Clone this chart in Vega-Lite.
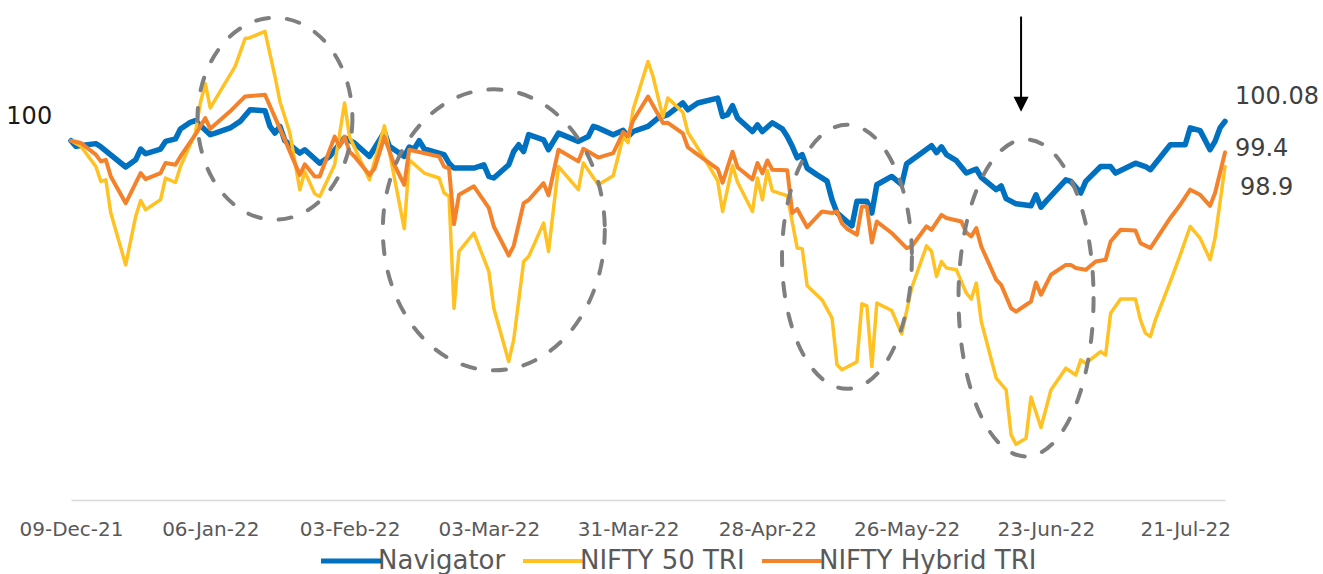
{
"$schema":"https://vega.github.io/schema/vega-lite/v6.json",
"width":1154,"height":494,
"autosize":{"type":"none"},
"padding":{"left":71,"top":6,"right":98,"bottom":74},
"background":"white",
"config":{"view":{"stroke":null},"font":"DejaVu Sans"},
"datasets":{
"nav":[
{"date":"2021-12-09","value":100},{"date":"2021-12-10","value":99.75},{"date":"2021-12-14","value":99.87},{"date":"2021-12-15","value":99.73},{"date":"2021-12-20","value":98.83},{"date":"2021-12-22","value":99.15},{"date":"2021-12-23","value":99.63},{"date":"2021-12-24","value":99.42},{"date":"2021-12-27","value":99.63},{"date":"2021-12-28","value":99.97},{"date":"2021-12-30","value":100.08},{"date":"2021-12-31","value":100.52},
{"date":"2022-01-02","value":100.82},{"date":"2022-01-03","value":100.89},{"date":"2022-01-06","value":100.27},{"date":"2022-01-07","value":100.34},{"date":"2022-01-10","value":100.57},{"date":"2022-01-12","value":100.86},{"date":"2022-01-14","value":101.38},{"date":"2022-01-17","value":101.34},{"date":"2022-01-18","value":100.64},{"date":"2022-01-19","value":100.34},{"date":"2022-01-20","value":100.64},{"date":"2022-01-21","value":100.0},{"date":"2022-01-24","value":99.45},{"date":"2022-01-25","value":99.6},{"date":"2022-01-28","value":99.0},{"date":"2022-01-30","value":99.3},
{"date":"2022-02-02","value":100.13},{"date":"2022-02-04","value":99.9},{"date":"2022-02-07","value":99.3},{"date":"2022-02-10","value":100.38},{"date":"2022-02-11","value":99.75},{"date":"2022-02-14","value":99.3},{"date":"2022-02-15","value":99.72},{"date":"2022-02-16","value":99.63},{"date":"2022-02-17","value":100.0},{"date":"2022-02-18","value":99.64},{"date":"2022-02-22","value":99.38},{"date":"2022-02-23","value":99.0},{"date":"2022-02-24","value":98.78},{"date":"2022-02-28","value":98.78},
{"date":"2022-03-02","value":98.93},{"date":"2022-03-03","value":98.41},{"date":"2022-03-04","value":98.34},{"date":"2022-03-07","value":98.93},{"date":"2022-03-08","value":99.52},{"date":"2022-03-09","value":99.82},{"date":"2022-03-10","value":99.52},{"date":"2022-03-11","value":100.27},{"date":"2022-03-14","value":100.04},{"date":"2022-03-15","value":99.6},{"date":"2022-03-17","value":100.34},{"date":"2022-03-21","value":99.97},{"date":"2022-03-23","value":100.19},{"date":"2022-03-24","value":100.64},{"date":"2022-03-25","value":100.57},{"date":"2022-03-28","value":100.27},{"date":"2022-03-30","value":100.46},{"date":"2022-03-31","value":100.19},
{"date":"2022-04-01","value":100.41},{"date":"2022-04-04","value":100.64},{"date":"2022-04-06","value":101.01},{"date":"2022-04-08","value":101.16},{"date":"2022-04-11","value":101.68},{"date":"2022-04-12","value":101.38},{"date":"2022-04-14","value":101.68},{"date":"2022-04-18","value":101.9},{"date":"2022-04-19","value":101.08},{"date":"2022-04-20","value":101.16},{"date":"2022-04-21","value":101.56},{"date":"2022-04-22","value":101.01},{"date":"2022-04-25","value":100.41},{"date":"2022-04-26","value":100.71},{"date":"2022-04-27","value":100.41},{"date":"2022-04-29","value":100.8},
{"date":"2022-05-01","value":100.53},{"date":"2022-05-02","value":100.19},{"date":"2022-05-03","value":99.75},{"date":"2022-05-04","value":99.24},{"date":"2022-05-05","value":99.38},{"date":"2022-05-06","value":98.78},{"date":"2022-05-08","value":98.48},{"date":"2022-05-10","value":98.2},{"date":"2022-05-11","value":97.37},{"date":"2022-05-12","value":96.79},{"date":"2022-05-14","value":96.4},{"date":"2022-05-15","value":96.21},{"date":"2022-05-16","value":97.3},{"date":"2022-05-18","value":97.3},{"date":"2022-05-19","value":96.78},{"date":"2022-05-20","value":98.04},{"date":"2022-05-23","value":98.41},{"date":"2022-05-25","value":98.04},{"date":"2022-05-26","value":98.98},{"date":"2022-05-29","value":99.45},{"date":"2022-05-31","value":99.78},
{"date":"2022-06-01","value":99.47},{"date":"2022-06-02","value":99.73},{"date":"2022-06-03","value":99.38},{"date":"2022-06-05","value":99.11},{"date":"2022-06-07","value":98.56},{"date":"2022-06-09","value":98.74},{"date":"2022-06-10","value":98.37},{"date":"2022-06-13","value":97.82},{"date":"2022-06-14","value":97.99},{"date":"2022-06-15","value":97.42},{"date":"2022-06-17","value":97.19},{"date":"2022-06-20","value":97.1},{"date":"2022-06-21","value":97.59},{"date":"2022-06-22","value":97.04},{"date":"2022-06-23","value":97.3},{"date":"2022-06-27","value":98.26},{"date":"2022-06-28","value":98.19},{"date":"2022-06-30","value":97.67},
{"date":"2022-07-01","value":98.19},{"date":"2022-07-04","value":98.85},{"date":"2022-07-06","value":98.85},{"date":"2022-07-07","value":98.56},{"date":"2022-07-11","value":99.0},{"date":"2022-07-13","value":98.85},{"date":"2022-07-14","value":98.71},{"date":"2022-07-18","value":99.82},{"date":"2022-07-21","value":99.82},{"date":"2022-07-22","value":100.57},{"date":"2022-07-24","value":100.45},{"date":"2022-07-26","value":99.6},{"date":"2022-07-27","value":99.97},{"date":"2022-07-28","value":100.57},{"date":"2022-07-29","value":100.86}
],
"n50":[
{"date":"2021-12-09","value":100},{"date":"2021-12-11","value":99.75},{"date":"2021-12-14","value":98.85},{"date":"2021-12-15","value":98.19},{"date":"2021-12-16","value":98.26},{"date":"2021-12-17","value":96.78},{"date":"2021-12-20","value":94.47},{"date":"2021-12-22","value":96.63},{"date":"2021-12-23","value":97.34},{"date":"2021-12-24","value":96.93},{"date":"2021-12-27","value":97.37},{"date":"2021-12-28","value":98.34},{"date":"2021-12-30","value":98.14},{"date":"2021-12-31","value":98.85},
{"date":"2022-01-03","value":100.34},{"date":"2022-01-04","value":101.68},{"date":"2022-01-05","value":102.54},{"date":"2022-01-06","value":101.46},{"date":"2022-01-11","value":103.31},{"date":"2022-01-13","value":104.55},{"date":"2022-01-14","value":104.59},{"date":"2022-01-17","value":104.87},{"date":"2022-01-19","value":102.87},{"date":"2022-01-20","value":101.75},{"date":"2022-01-22","value":100.34},{"date":"2022-01-24","value":97.82},{"date":"2022-01-25","value":98.62},{"date":"2022-01-27","value":97.64},{"date":"2022-01-28","value":97.52},{"date":"2022-01-31","value":98.93},
{"date":"2022-02-02","value":101.68},{"date":"2022-02-03","value":100.18},{"date":"2022-02-07","value":98.26},{"date":"2022-02-10","value":100.66},{"date":"2022-02-14","value":96.08},{"date":"2022-02-15","value":99.15},{"date":"2022-02-18","value":98.56},{"date":"2022-02-21","value":98.34},{"date":"2022-02-22","value":97.67},{"date":"2022-02-23","value":97.52},{"date":"2022-02-24","value":92.54},{"date":"2022-02-25","value":95.07},{"date":"2022-02-28","value":95.89},
{"date":"2022-03-03","value":94.18},{"date":"2022-03-04","value":92.54},{"date":"2022-03-07","value":90.17},{"date":"2022-03-08","value":91.13},{"date":"2022-03-10","value":94.62},{"date":"2022-03-11","value":94.84},{"date":"2022-03-14","value":96.33},{"date":"2022-03-15","value":95.07},{"date":"2022-03-17","value":98.85},{"date":"2022-03-21","value":97.82},{"date":"2022-03-22","value":99.01},{"date":"2022-03-25","value":98.04},{"date":"2022-03-28","value":98.44},{"date":"2022-03-29","value":99.3},{"date":"2022-03-30","value":100.19},{"date":"2022-03-31","value":99.92},
{"date":"2022-04-01","value":101.38},{"date":"2022-04-04","value":103.53},{"date":"2022-04-05","value":102.87},{"date":"2022-04-07","value":101.05},{"date":"2022-04-08","value":101.9},{"date":"2022-04-11","value":101.27},{"date":"2022-04-12","value":100.38},{"date":"2022-04-15","value":99.33},{"date":"2022-04-18","value":98.22},{"date":"2022-04-19","value":96.85},{"date":"2022-04-21","value":98.89},{"date":"2022-04-22","value":98.15},{"date":"2022-04-25","value":96.85},{"date":"2022-04-26","value":98.34},{"date":"2022-04-27","value":97.37},{"date":"2022-04-28","value":98.67},{"date":"2022-04-29","value":97.77},
{"date":"2022-05-02","value":97.55},{"date":"2022-05-04","value":95.22},{"date":"2022-05-05","value":95.19},{"date":"2022-05-06","value":93.54},{"date":"2022-05-09","value":92.91},{"date":"2022-05-11","value":92.1},{"date":"2022-05-12","value":90.02},{"date":"2022-05-13","value":89.8},{"date":"2022-05-16","value":90.15},{"date":"2022-05-17","value":92.74},{"date":"2022-05-18","value":92.65},{"date":"2022-05-19","value":89.94},{"date":"2022-05-20","value":92.77},{"date":"2022-05-23","value":92.44},{"date":"2022-05-25","value":91.4},{"date":"2022-05-27","value":93.44},{"date":"2022-05-30","value":95.32},{"date":"2022-05-31","value":95.07},
{"date":"2022-06-01","value":93.96},{"date":"2022-06-02","value":94.62},{"date":"2022-06-03","value":94.33},{"date":"2022-06-05","value":94.25},{"date":"2022-06-07","value":93.21},{"date":"2022-06-08","value":92.95},{"date":"2022-06-09","value":93.66},{"date":"2022-06-10","value":91.95},{"date":"2022-06-13","value":89.43},{"date":"2022-06-15","value":88.9},{"date":"2022-06-16","value":86.9},{"date":"2022-06-17","value":86.48},{"date":"2022-06-19","value":86.75},{"date":"2022-06-20","value":88.59},{"date":"2022-06-22","value":87.23},{"date":"2022-06-24","value":88.9},{"date":"2022-06-27","value":89.87},{"date":"2022-06-29","value":89.57},{"date":"2022-06-30","value":90.24},
{"date":"2022-07-01","value":90.09},{"date":"2022-07-04","value":90.61},{"date":"2022-07-05","value":90.46},{"date":"2022-07-06","value":92.32},{"date":"2022-07-08","value":92.95},{"date":"2022-07-11","value":92.95},{"date":"2022-07-12","value":92.02},{"date":"2022-07-13","value":91.43},{"date":"2022-07-14","value":91.28},{"date":"2022-07-15","value":92.02},{"date":"2022-07-18","value":93.73},{"date":"2022-07-20","value":94.92},{"date":"2022-07-22","value":96.18},{"date":"2022-07-24","value":95.66},{"date":"2022-07-26","value":94.7},{"date":"2022-07-27","value":95.66},{"date":"2022-07-29","value":98.85}
],
"hyb":[
{"date":"2021-12-09","value":100},{"date":"2021-12-11","value":99.9},{"date":"2021-12-14","value":99.38},{"date":"2021-12-15","value":99.08},{"date":"2021-12-16","value":99.15},{"date":"2021-12-17","value":98.41},{"date":"2021-12-20","value":97.22},{"date":"2021-12-23","value":98.56},{"date":"2021-12-24","value":98.29},{"date":"2021-12-27","value":98.56},{"date":"2021-12-28","value":99.01},{"date":"2021-12-30","value":98.93},{"date":"2021-12-31","value":99.3},
{"date":"2022-01-03","value":100.27},{"date":"2022-01-05","value":101.01},{"date":"2022-01-06","value":100.53},{"date":"2022-01-10","value":101.31},{"date":"2022-01-12","value":101.75},{"date":"2022-01-13","value":101.97},{"date":"2022-01-17","value":102.05},{"date":"2022-01-21","value":100.04},{"date":"2022-01-24","value":98.48},{"date":"2022-01-25","value":98.95},{"date":"2022-01-27","value":98.41},{"date":"2022-01-28","value":98.41},{"date":"2022-01-31","value":100.18},
{"date":"2022-02-01","value":99.75},{"date":"2022-02-02","value":100.18},{"date":"2022-02-03","value":99.51},{"date":"2022-02-04","value":99.3},{"date":"2022-02-07","value":98.48},{"date":"2022-02-08","value":98.75},{"date":"2022-02-10","value":100.16},{"date":"2022-02-12","value":98.93},{"date":"2022-02-14","value":98.04},{"date":"2022-02-15","value":99.6},{"date":"2022-02-21","value":99.3},{"date":"2022-02-22","value":98.85},{"date":"2022-02-23","value":98.77},{"date":"2022-02-24","value":96.28},{"date":"2022-02-25","value":97.59},{"date":"2022-02-28","value":97.97},
{"date":"2022-03-03","value":97.01},{"date":"2022-03-04","value":96.18},{"date":"2022-03-07","value":94.89},{"date":"2022-03-08","value":95.32},{"date":"2022-03-10","value":97.22},{"date":"2022-03-11","value":97.36},{"date":"2022-03-14","value":98.11},{"date":"2022-03-15","value":97.57},{"date":"2022-03-17","value":99.6},{"date":"2022-03-21","value":99.08},{"date":"2022-03-22","value":99.64},{"date":"2022-03-23","value":99.52},{"date":"2022-03-25","value":99.25},{"date":"2022-03-28","value":99.45},{"date":"2022-03-29","value":99.9},{"date":"2022-03-30","value":100.38},{"date":"2022-03-31","value":100.22},
{"date":"2022-04-01","value":100.89},{"date":"2022-04-04","value":101.97},{"date":"2022-04-07","value":100.79},{"date":"2022-04-08","value":100.8},{"date":"2022-04-11","value":100.33},{"date":"2022-04-12","value":99.71},{"date":"2022-04-14","value":99.38},{"date":"2022-04-18","value":98.75},{"date":"2022-04-19","value":98.13},{"date":"2022-04-21","value":99.51},{"date":"2022-04-22","value":98.82},{"date":"2022-04-25","value":98.28},{"date":"2022-04-26","value":99.01},{"date":"2022-04-27","value":98.55},{"date":"2022-04-28","value":99.12},{"date":"2022-04-29","value":98.71},
{"date":"2022-05-02","value":98.69},{"date":"2022-05-03","value":96.78},{"date":"2022-05-04","value":96.96},{"date":"2022-05-06","value":96.15},{"date":"2022-05-09","value":96.85},{"date":"2022-05-11","value":96.78},{"date":"2022-05-12","value":96.85},{"date":"2022-05-13","value":96.32},{"date":"2022-05-14","value":96.08},{"date":"2022-05-16","value":95.81},{"date":"2022-05-17","value":97.07},{"date":"2022-05-18","value":97.07},{"date":"2022-05-19","value":95.47},{"date":"2022-05-20","value":96.4},{"date":"2022-05-23","value":95.89},{"date":"2022-05-26","value":95.22},{"date":"2022-05-27","value":95.29},{"date":"2022-05-29","value":95.89},{"date":"2022-05-30","value":96.19},{"date":"2022-05-31","value":96.03},
{"date":"2022-06-02","value":96.7},{"date":"2022-06-03","value":96.56},{"date":"2022-06-06","value":96.4},{"date":"2022-06-07","value":95.91},{"date":"2022-06-08","value":95.74},{"date":"2022-06-09","value":96.11},{"date":"2022-06-10","value":95.29},{"date":"2022-06-13","value":93.81},{"date":"2022-06-14","value":93.58},{"date":"2022-06-16","value":92.54},{"date":"2022-06-17","value":92.39},{"date":"2022-06-20","value":92.84},{"date":"2022-06-21","value":93.69},{"date":"2022-06-22","value":93.14},{"date":"2022-06-24","value":94.03},{"date":"2022-06-27","value":94.47},{"date":"2022-06-28","value":94.47},{"date":"2022-06-29","value":94.33},
{"date":"2022-07-01","value":94.25},{"date":"2022-07-03","value":94.62},{"date":"2022-07-05","value":94.7},{"date":"2022-07-06","value":95.51},{"date":"2022-07-08","value":96.03},{"date":"2022-07-11","value":96.0},{"date":"2022-07-12","value":95.44},{"date":"2022-07-14","value":95.22},{"date":"2022-07-18","value":96.56},{"date":"2022-07-20","value":97.15},{"date":"2022-07-22","value":97.82},{"date":"2022-07-24","value":97.59},{"date":"2022-07-26","value":97.1},{"date":"2022-07-27","value":97.67},{"date":"2022-07-29","value":99.48}
],
"ellipses":[
{"id":1,"date":"2022-01-19","value":100.98},
{"id":2,"date":"2022-03-04","value":96.03},
{"id":3,"date":"2022-05-14","value":94.83},
{"id":4,"date":"2022-06-19","value":93.0}
],
"arrow":[{"date":"2022-06-18","value":105.53,"value2":101.83,"head":101.63}],
"labels":[
{"label":"100","date":"2021-11-26","value":100.76},
{"label":"100.08","date":"2022-07-31","value":101.65},
{"label":"99.4","date":"2022-07-31","value":99.33},
{"label":"98.9","date":"2022-08-01","value":97.59}
]
},
"encoding":{
"x":{"field":"date","type":"temporal",
 "scale":{"type":"utc","domain":[{"year":2021,"month":12,"date":9,"utc":true},{"year":2022,"month":7,"date":29,"utc":true}]},
 "axis":{"title":null,"format":"%d-%b-%y",
  "values":[{"year":2021,"month":12,"date":9,"utc":true},{"year":2022,"month":1,"date":6,"utc":true},{"year":2022,"month":2,"date":3,"utc":true},{"year":2022,"month":3,"date":3,"utc":true},{"year":2022,"month":3,"date":31,"utc":true},{"year":2022,"month":4,"date":28,"utc":true},{"year":2022,"month":5,"date":26,"utc":true},{"year":2022,"month":6,"date":23,"utc":true},{"year":2022,"month":7,"date":21,"utc":true}],
  "labelFont":"DejaVu Sans","labelFontSize":20,"labelColor":"#595959","ticks":false,"tickSize":0,"grid":false,
  "domainColor":"#D9D9D9","domainWidth":1.5,"labelPadding":19,"labelFlush":false,"labelOverlap":false}},
"y":{"field":"value","type":"quantitative","scale":{"domain":[84,106],"zero":false,"nice":false},"axis":null}
},
"layer":[
{"data":{"name":"nav"},"transform":[{"calculate":"'Navigator'","as":"series"}],
 "mark":{"type":"line","strokeWidth":5.5,"strokeJoin":"round","strokeCap":"round"},
 "encoding":{"color":{"field":"series","type":"nominal",
  "scale":{"domain":["Navigator","NIFTY 50 TRI","NIFTY Hybrid TRI"],"range":["#0070C0","#FFC222","#F4822B"]},
  "legend":{"title":null,"orient":"none","legendX":267,"legendY":542,"direction":"horizontal","symbolType":"stroke","symbolSize":3600,"symbolStrokeWidth":4,
   "labelFont":"DejaVu Sans","labelFontSize":26,"labelColor":"#595959","labelOffset":14,"labelLimit":400,"columnPadding":9,"padding":0,
   "encode":{"symbols":{"update":{"strokeWidth":{"signal":"datum.value === 'Navigator' ? 5 : 4"}}}}}}}},
{"data":{"name":"n50"},"transform":[{"calculate":"'NIFTY 50 TRI'","as":"series"}],
 "mark":{"type":"line","strokeWidth":3.5,"strokeJoin":"round","strokeCap":"round"},
 "encoding":{"color":{"field":"series","type":"nominal","scale":{"domain":["Navigator","NIFTY 50 TRI","NIFTY Hybrid TRI"],"range":["#0070C0","#FFC222","#F4822B"]}}}},
{"data":{"name":"hyb"},"transform":[{"calculate":"'NIFTY Hybrid TRI'","as":"series"}],
 "mark":{"type":"line","strokeWidth":4,"strokeJoin":"round","strokeCap":"round"},
 "encoding":{"color":{"field":"series","type":"nominal","scale":{"domain":["Navigator","NIFTY 50 TRI","NIFTY Hybrid TRI"],"range":["#0070C0","#FFC222","#F4822B"]}}}},
{"data":{"name":"ellipses"},"transform":[{"filter":"datum.id === 1"}],
 "mark":{"type":"point","shape":"M0.767,0C0.767,0.552 0.424,1 0,1C-0.424,1 -0.767,0.552 -0.767,0C-0.767,-0.552 -0.424,-1 0,-1C0.424,-1 0.767,-0.552 0.767,0Z","size":40804,"filled":false,"color":"#7F7F7F","strokeWidth":4,"strokeDash":[13,18],"strokeCap":"round","opacity":1}},
{"data":{"name":"ellipses"},"transform":[{"filter":"datum.id === 2"}],
 "mark":{"type":"point","shape":"M0.79,0C0.79,0.552 0.436,1 0,1C-0.436,1 -0.79,0.552 -0.79,0C-0.79,-0.552 -0.436,-1 0,-1C0.436,-1 0.79,-0.552 0.79,0Z","size":78961,"filled":false,"color":"#7F7F7F","strokeWidth":4,"strokeDash":[13,18],"strokeCap":"round","opacity":1}},
{"data":{"name":"ellipses"},"transform":[{"filter":"datum.id === 3"}],
 "mark":{"type":"point","shape":"M0.492,0C0.492,0.552 0.272,1 0,1C-0.272,1 -0.492,0.552 -0.492,0C-0.492,-0.552 -0.272,-1 0,-1C0.272,-1 0.492,-0.552 0.492,0Z","size":69696,"filled":false,"color":"#7F7F7F","strokeWidth":4,"strokeDash":[13,18],"strokeCap":"round","opacity":1}},
{"data":{"name":"ellipses"},"transform":[{"filter":"datum.id === 4"}],
 "mark":{"type":"point","shape":"M0.426,0C0.426,0.552 0.235,1 0,1C-0.235,1 -0.426,0.552 -0.426,0C-0.426,-0.552 -0.235,-1 0,-1C0.235,-1 0.426,-0.552 0.426,0Z","size":100489,"filled":false,"color":"#7F7F7F","strokeWidth":4,"strokeDash":[13,18],"strokeCap":"round","opacity":1}},
{"data":{"name":"arrow"},"mark":{"type":"rule","color":"black","strokeWidth":2},"encoding":{"y2":{"field":"value2"}}},
{"data":{"name":"arrow"},"mark":{"type":"point","shape":"M-1,-1L1,-1L0,1Z","size":225,"filled":true,"color":"black","opacity":1},"encoding":{"y":{"field":"head","type":"quantitative"}}},
{"data":{"name":"labels"},"mark":{"type":"text","align":"left","baseline":"alphabetic","font":"DejaVu Sans","fontSize":24,"clip":false},
 "encoding":{"text":{"field":"label"},"color":{"condition":{"test":"datum.label === '100'","value":"#1A1A1A"},"value":"#404040"}}}
]
}
